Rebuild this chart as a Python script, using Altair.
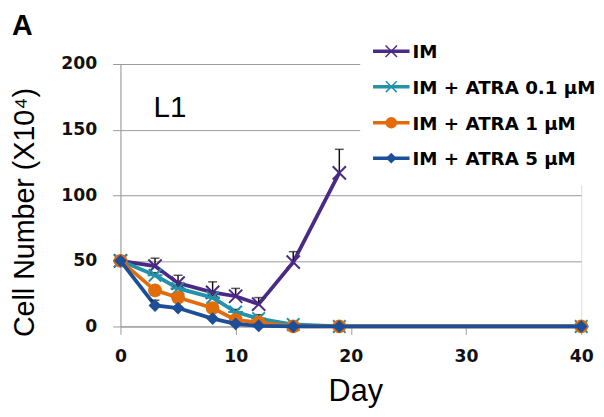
import altair as alt
import pandas as pd

# ---------------- data ----------------
days_im = [0, 3, 5, 8, 10, 12, 15, 19]
days_all = [0, 3, 5, 8, 10, 12, 15, 19, 40]

series_names = ["IM", "IM + ATRA 0.1 μM", "IM + ATRA 1 μM", "IM + ATRA 5 μM"]

im_vals = [50, 46, 33, 26, 23, 17, 49, 117]
im_err = [0, 6, 6, 8, 6, 5, 8, 18]

atra01_vals = [50, 39, 29, 22, 11, 6, 1.5, 0, 0]
atra01_err = [0, 2, 2, 2, 2, 3, 1, 0, 0]

atra1_vals = [50, 27.5, 22, 14, 5, 3, 0, 0, 0]
atra1_err = [0, 1, 1, 1, 1, 1, 0, 0, 0]

atra5_vals = [50, 16, 14, 6, 2, 0.5, 0, 0, 0]
atra5_err = [0, 4, 1, 1, 1, 0, 0, 0, 0]

y_ticks = [0, 50, 100, 150, 200]
x_ticks = [0, 10, 20, 30, 40]

panel_label = "A"
line_label = "L1"
line_label_day = [4.3]
line_label_val = [160]

# ---------------- styles ----------------
colors = ["#4B2A86", "#2492A8", "#E36C0A", "#1C4F97"]
X_PATH = "M-1,-1L1,1M-1,1L1,-1"
AST_PATH = "M-1,-1L1,1M-1,1L1,-1M-1.2,0L1.2,0"
shapes = [X_PATH, AST_PATH, "circle", "diamond"]
filled = [False, False, True, True]
sizes = [180, 160, 196, 170]

series_days = [days_im, days_all, days_all, days_all]
series_vals = [im_vals, atra01_vals, atra1_vals, atra5_vals]
series_errs = [im_err, atra01_err, atra1_err, atra5_err]

xscale = alt.Scale(domain=[0, 40], nice=False, zero=False)
yscale = alt.Scale(domain=[0, 200], nice=False)

GRAY = "#9a9a9a"
BOLD_FONT = "DejaVu Sans"

x_axis = alt.Axis(
    values=x_ticks, grid=False, title="Day",
    labelFont=BOLD_FONT, labelFontWeight="bold", labelFontSize=17.5,
    labelColor="#111111", labelPadding=14, tickSize=8, tickColor=GRAY,
    domainColor=GRAY, titleFont="Liberation Sans", titleFontSize=31,
    titleFontWeight="normal", titleColor="#000000", titleY=75, titleX=238,
    titleAlign="center", titleBaseline="alphabetic", labelFlush=False,
)
y_axis = alt.Axis(
    values=y_ticks, grid=True, gridColor=GRAY, gridWidth=1,
    title="Cell Number (X10⁴)",
    labelFont=BOLD_FONT, labelFontWeight="bold", labelFontSize=17.5,
    labelColor="#111111", labelPadding=16, tickSize=8, tickColor=GRAY,
    domainColor=GRAY, titleFont="Liberation Sans", titleFontSize=29,
    titleFontWeight="normal", titleColor="#000000", titleAngle=-90,
    titleX=-88, titleY=150, titleAlign="center", titleBaseline="alphabetic",
)

# axis carrier (invisible)
base_df = pd.DataFrame({"day": days_all, "value": atra5_vals})
axes_layer = alt.Chart(base_df).mark_point(opacity=0).encode(
    x=alt.X("day:Q", scale=xscale, axis=x_axis),
    y=alt.Y("value:Q", scale=yscale, axis=y_axis),
)

# white legend box covering gridlines
legend_box = alt.Chart(pd.DataFrame({"a": [0]})).mark_rect(color="white").encode(
    x=alt.value(243), x2=alt.value(482), y=alt.value(-30), y2=alt.value(123)
)

layers = [axes_layer, legend_box]

for name, d, v, e, c, sh, fl, sz in zip(series_names, series_days, series_vals,
                                        series_errs, colors, shapes, filled, sizes):
    df = pd.DataFrame({"day": d, "value": v, "err": e})
    df["top"] = df["value"] + df["err"]
    dfe = df[df["err"] > 0]
    line = alt.Chart(df).mark_line(color=c, strokeWidth=3.8).encode(
        x=alt.X("day:Q", scale=xscale), y=alt.Y("value:Q", scale=yscale)
    )
    rule = alt.Chart(dfe).mark_rule(color="#111111", strokeWidth=1.5).encode(
        x=alt.X("day:Q", scale=xscale), y=alt.Y("value:Q", scale=yscale),
        y2="top:Q",
    )
    cap = alt.Chart(dfe).mark_tick(color="#111111", thickness=1.5, size=9,
                                   orient="horizontal").encode(
        x=alt.X("day:Q", scale=xscale), y=alt.Y("top:Q", scale=yscale)
    )
    if fl:
        pts = alt.Chart(df).mark_point(shape=sh, filled=True, color=c, size=sz,
                                       opacity=1).encode(
            x=alt.X("day:Q", scale=xscale), y=alt.Y("value:Q", scale=yscale)
        )
    else:
        pts = alt.Chart(df).mark_point(shape=sh, filled=False, color=c, size=sz,
                                       strokeWidth=2, opacity=1).encode(
            x=alt.X("day:Q", scale=xscale), y=alt.Y("value:Q", scale=yscale)
        )
    layers += [line, rule, cap, pts]

# legend (manual, line + marker + label)
leg_y = [-13, 23, 59.5, 95.5]
for name, c, sh, fl, sz, ly in zip(series_names, colors, shapes, filled, sizes, leg_y):
    one = pd.DataFrame({"label": [name]})
    lr = alt.Chart(one).mark_rule(color=c, strokeWidth=3.5).encode(
        x=alt.value(256), x2=alt.value(293), y=alt.value(ly)
    )
    if fl:
        lp = alt.Chart(one).mark_point(shape=sh, filled=True, color=c,
                                       size=sz * 0.7, opacity=1).encode(
            x=alt.value(274.5), y=alt.value(ly)
        )
    else:
        lp = alt.Chart(one).mark_point(shape=sh, filled=False, color=c,
                                       size=sz * 0.75, strokeWidth=1.5,
                                       opacity=1).encode(
            x=alt.value(274.5), y=alt.value(ly)
        )
    lt = alt.Chart(one).mark_text(align="left", baseline="middle",
                                  font=BOLD_FONT, fontWeight="bold",
                                  fontSize=18.5, color="#000000", dy=1).encode(
        x=alt.value(296), y=alt.value(ly), text="label:N"
    )
    layers += [lr, lp, lt]

# "L1" annotation
l1 = alt.Chart(pd.DataFrame({"day": line_label_day, "value": line_label_val,
                             "t": [line_label]})).mark_text(
    font="Liberation Sans", fontSize=30, align="center", baseline="alphabetic",
    color="#000000"
).encode(x=alt.X("day:Q", scale=xscale), y=alt.Y("value:Q", scale=yscale),
         text="t:N")

# panel label "A"
a_lab = alt.Chart(pd.DataFrame({"t": [panel_label]})).mark_text(
    font="Liberation Sans", fontSize=29, fontWeight="bold", align="left",
    baseline="alphabetic", color="#000000"
).encode(x=alt.value(-110), y=alt.value(-29), text="t:N")

layers += [l1, a_lab]

chart = alt.layer(*layers).properties(
    width=467, height=266,
    autosize=alt.AutoSizeParams(type="none"),
    padding={"left": 114, "top": 54, "right": 15, "bottom": 89},
).configure_view(stroke=None).configure(background="white")

chart.save("out.html", embed_options={"renderer": "svg", "actions": False})
